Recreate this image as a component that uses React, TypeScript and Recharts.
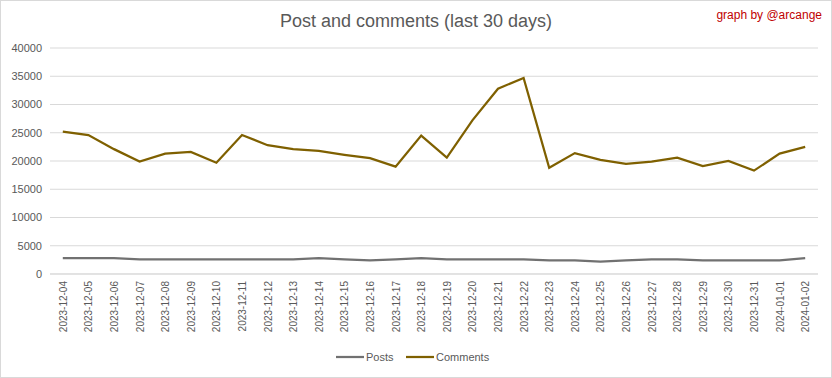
import React from "react";
import { LineChart, Line, XAxis, YAxis, CartesianGrid, Legend } from "recharts";

const dates = [
  "2023-12-04","2023-12-05","2023-12-06","2023-12-07","2023-12-08","2023-12-09","2023-12-10",
  "2023-12-11","2023-12-12","2023-12-13","2023-12-14","2023-12-15","2023-12-16","2023-12-17",
  "2023-12-18","2023-12-19","2023-12-20","2023-12-21","2023-12-22","2023-12-23","2023-12-24",
  "2023-12-25","2023-12-26","2023-12-27","2023-12-28","2023-12-29","2023-12-30","2023-12-31",
  "2024-01-01","2024-01-02",
];
const posts = [
  2800, 2800, 2800, 2600, 2600, 2600, 2600, 2600, 2600, 2600, 2800, 2600, 2400, 2600, 2800,
  2600, 2600, 2600, 2600, 2400, 2400, 2200, 2400, 2600, 2600, 2400, 2400, 2400, 2400, 2800,
];
const comments = [
  25200, 24600, 22100, 19900, 21300, 21600, 19700, 24600, 22800, 22100, 21800, 21100, 20500, 19000, 24500,
  20600, 27200, 32800, 34700, 18800, 21400, 20200, 19500, 19900, 20600, 19100, 20000, 18300, 21300, 22500,
];
const yTicks = [0, 5000, 10000, 15000, 20000, 25000, 30000, 35000, 40000];

const data = dates.map((d, i) => ({ date: d, Posts: posts[i], Comments: comments[i] }));

const FONT = "'Liberation Sans', Arial, sans-serif";
const POSTS_COLOR = "#717171";
const COMMENTS_COLOR = "#7f6000";

const XTick = (props: any) => {
  const { x, y, payload } = props;
  return (
    <text
      x={0}
      y={0}
      transform={`translate(${x + 4},${y - 1}) rotate(-90)`}
      textAnchor="end"
      fontSize={10}
      fill="#595959"
      fontFamily={FONT}
    >
      {payload.value}
    </text>
  );
};

const LegendContent = () => (
  <div style={{ display: "flex", justifyContent: "center", fontFamily: FONT, fontSize: 11, color: "#595959" }}>
    <svg width={160} height={14}>
      <line x1={0} y1={7} x2={28} y2={7} stroke={POSTS_COLOR} strokeWidth={2.25} />
      <text x={30} y={11} fontSize={11} fill="#595959" fontFamily={FONT}>Posts</text>
      <line x1={70} y1={7} x2={98} y2={7} stroke={COMMENTS_COLOR} strokeWidth={2.25} />
      <text x={100} y={11} fontSize={11} fill="#595959" fontFamily={FONT}>Comments</text>
    </svg>
  </div>
);

export default function App() {
  return (
    <div
      style={{
        position: "absolute",
        left: 0,
        top: 0,
        width: 830,
        height: 376,
        border: "1px solid #d9d9d9",
        background: "#fff",
        fontFamily: FONT,
      }}
    >
      <div
        style={{
          position: "absolute",
          top: 10,
          left: 0,
          width: 830,
          textAlign: "center",
          fontSize: 18,
          color: "#595959",
        }}
      >
        Post and comments (last 30 days)
      </div>
      <div
        style={{
          position: "absolute",
          top: 7,
          right: 9,
          fontSize: 12,
          color: "#c00000",
        }}
      >
        graph by @arcange
      </div>
      <div style={{ position: "absolute", left: -1, top: -1 }}>
        <LineChart width={832} height={378} data={data} margin={{ top: 48, right: 14, bottom: 0, left: 8 }}>
          <CartesianGrid horizontal vertical={false} stroke="#d9d9d9" />
          <XAxis
            dataKey="date"
            interval={0}
            height={90}
            tick={<XTick />}
            tickLine={false}
            axisLine={{ stroke: "#d9d9d9" }}
            padding={{ left: 12.8, right: 12.8 }}
          />
          <YAxis
            width={42}
            domain={[0, 40000]}
            ticks={yTicks}
            tickLine={false}
            axisLine={false}
            tick={{ fontSize: 11, fill: "#595959", fontFamily: FONT }}
          />
          <Legend content={<LegendContent />} wrapperStyle={{ top: 350, left: 0, width: 832 }} />
          <Line type="linear" dataKey="Posts" stroke={POSTS_COLOR} strokeWidth={2.25} dot={false} isAnimationActive={false} />
          <Line type="linear" dataKey="Comments" stroke={COMMENTS_COLOR} strokeWidth={2.25} dot={false} isAnimationActive={false} />
        </LineChart>
      </div>
    </div>
  );
}
